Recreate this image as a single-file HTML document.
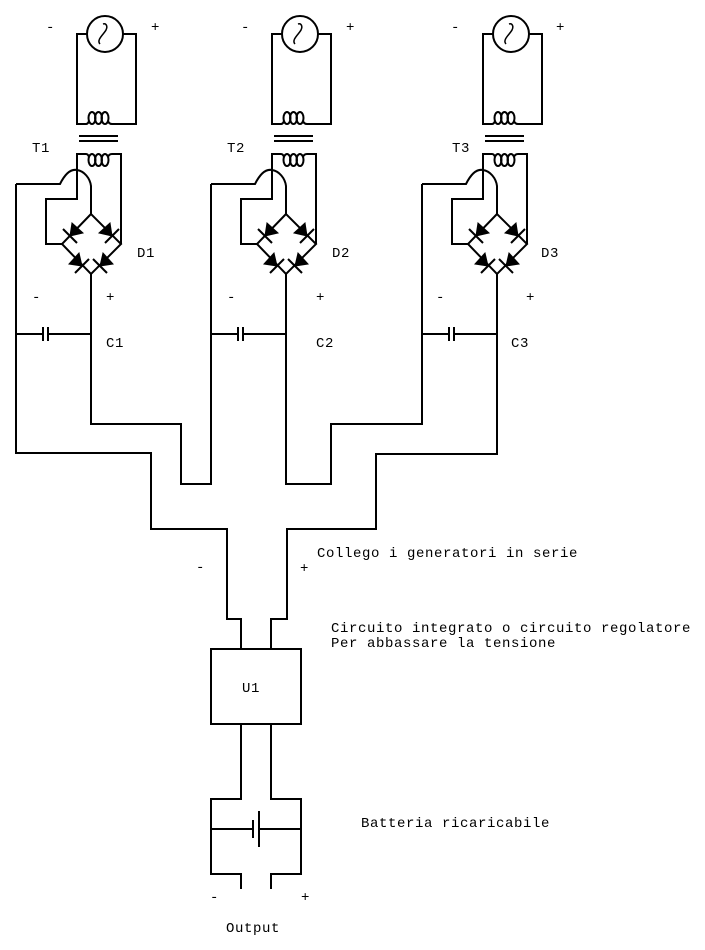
<!DOCTYPE html>
<html><head><meta charset="utf-8"><style>
html,body{margin:0;padding:0;background:#fff;}
svg{display:block;}
text{font-family:"Liberation Mono",monospace;font-size:14px;letter-spacing:0.6px;fill:#000;}
</style></head><body>
<svg width="705" height="950" viewBox="0 0 705 950" xmlns="http://www.w3.org/2000/svg">
<defs>
<g id="cell" fill="none" stroke="#000" stroke-width="2">
  <circle cx="105" cy="34" r="18"/>
  <path d="M100,44 C96,40 104,34 106,30 C108,26 106,23 103,24" stroke-width="1.5"/>
  <polyline points="87,34 77,34 77,124 86,124"/>
  <polyline points="123,34 136,34 136,124 112,124"/>
  <ellipse cx="92" cy="118" rx="3.5" ry="6"/>
  <ellipse cx="98.5" cy="118" rx="3.5" ry="6"/>
  <ellipse cx="105" cy="118" rx="3.5" ry="6"/>
  <path d="M86,124 Q88,124 89,121 M108,121 Q109,124 112,124"/>
  <line x1="79" y1="136" x2="118" y2="136"/>
  <line x1="79" y1="141" x2="118" y2="141"/>
  <ellipse cx="92" cy="160" rx="3.5" ry="6"/>
  <ellipse cx="98.5" cy="160" rx="3.5" ry="6"/>
  <ellipse cx="105" cy="160" rx="3.5" ry="6"/>
  <path d="M86,154 Q88,154 89,157 M108,157 Q109,154 112,154"/>
  <polyline points="86,154 77,154 77,199 46,199 46,244 62,244"/>
  <polyline points="112,154 121,154 121,244"/>
  <path d="M16,184 L60,184 C66,172 72,169 77,170 C84,171 90,178 91,186 L91,214"/>
  <polygon points="91,214 62,244 91,274 121,244"/>
  <line x1="91" y1="274" x2="91" y2="334"/>
  <polyline points="16,334 43,334"/>
  <line x1="43" y1="327" x2="43" y2="341"/>
  <line x1="48" y1="327" x2="48" y2="341"/>
  <polyline points="48,334 91,334"/>
</g>
<g id="diodes" fill="#000" stroke="#000" stroke-width="2">
  <polygon points="70,236 72,223 83,233" stroke-width="1"/>
  <line x1="63" y1="229" x2="77" y2="243"/>
  <polygon points="112,236 110,223 99,233" stroke-width="1"/>
  <line x1="119" y1="229" x2="105" y2="243"/>
  <polygon points="82,266 69,264 79,253" stroke-width="1"/>
  <line x1="75" y1="273" x2="89" y2="259"/>
  <polygon points="100,266 113,264 103,253" stroke-width="1"/>
  <line x1="107" y1="273" x2="93" y2="259"/>
</g>
</defs>
<use href="#cell"/><use href="#diodes"/>
<use href="#cell" transform="translate(195,0)"/><use href="#diodes" transform="translate(195,0)"/>
<use href="#cell" transform="translate(406,0)"/><use href="#diodes" transform="translate(406,0)"/>

<g fill="none" stroke="#000" stroke-width="2">
  <polyline points="91,334 91,424 181,424 181,484 211,484 211,184"/>
  <polyline points="16,184 16,453 151,453 151,529 227,529 227,619 241,619 241,649"/>
  <polyline points="286,334 286,484 331,484 331,424 422,424 422,184"/>
  <polyline points="497,334 497,454 376,454 376,529 287,529 287,619 271,619 271,649"/>
  <rect x="211" y="649" width="90" height="75"/>
  <polyline points="241,724 241,799 211,799 211,874 241,874 241,889"/>
  <polyline points="271,724 271,799 301,799 301,874 271,874 271,889"/>
  <line x1="211" y1="829" x2="253" y2="829"/>
  <line x1="253" y1="820" x2="253" y2="838"/>
  <line x1="259" y1="811" x2="259" y2="847"/>
  <line x1="259" y1="829" x2="301" y2="829"/>
</g>

<g>
<text x="46" y="31">-</text><text x="151" y="31">+</text>
<text x="241" y="31">-</text><text x="346" y="31">+</text>
<text x="451" y="31">-</text><text x="556" y="31">+</text>
<text x="32" y="152">T1</text><text x="227" y="152">T2</text><text x="452" y="152">T3</text>
<text x="137" y="257">D1</text><text x="332" y="257">D2</text><text x="541" y="257">D3</text>
<text x="32" y="301">-</text><text x="106" y="301">+</text>
<text x="227" y="301">-</text><text x="316" y="301">+</text>
<text x="436" y="301">-</text><text x="526" y="301">+</text>
<text x="106" y="347">C1</text><text x="316" y="347">C2</text><text x="511" y="347">C3</text>
<text x="317" y="557">Collego i generatori in serie</text>
<text x="196" y="571">-</text><text x="300" y="572">+</text>
<text x="331" y="632">Circuito integrato o circuito regolatore</text>
<text x="331" y="647">Per abbassare la tensione</text>
<text x="242" y="692">U1</text>
<text x="361" y="827">Batteria ricaricabile</text>
<text x="210" y="901">-</text><text x="301" y="901">+</text>
<text x="226" y="932">Output</text>
</g>
</svg>
</body></html>
